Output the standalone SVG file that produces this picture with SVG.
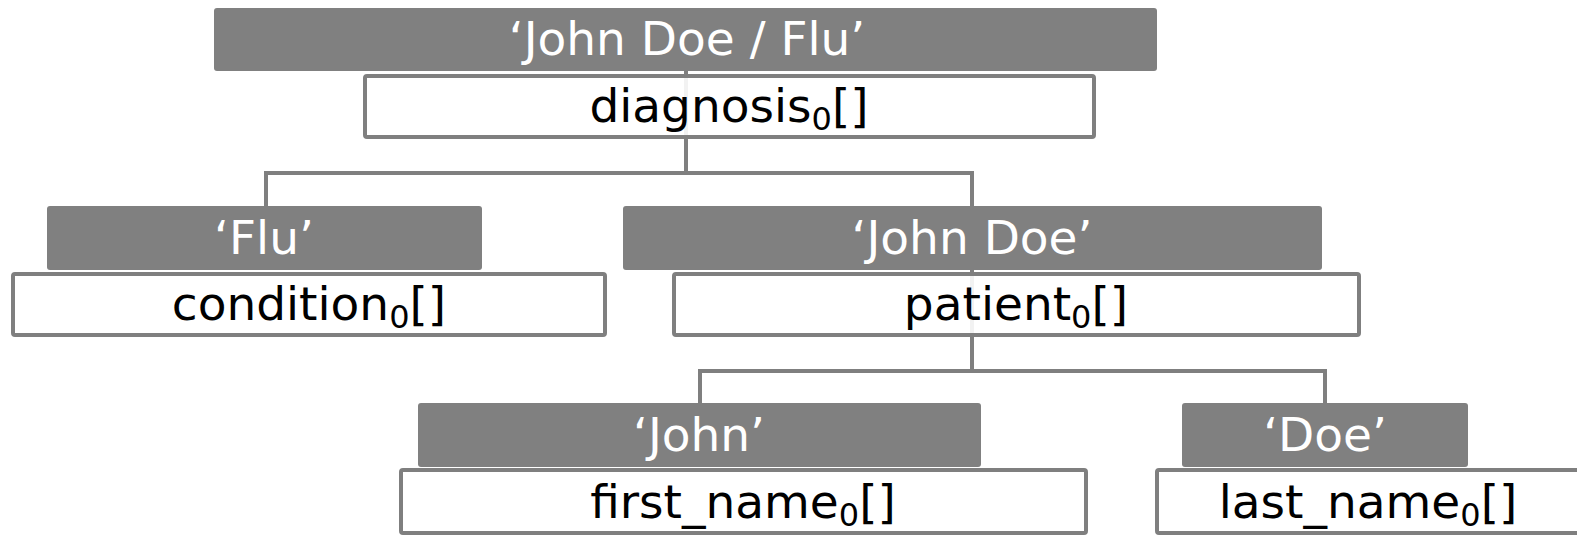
<svg xmlns="http://www.w3.org/2000/svg" width="1577" height="535" viewBox="0 0 1577 535">
<style>
.dark{fill:#808080}
.box{fill:#ffffff;fill-opacity:0.9;stroke:#7f7f7f;stroke-width:4}
.lbl{font-family:"DejaVu Sans",Verdana,sans-serif;font-size:47px;text-anchor:middle}
.w{fill:#ffffff}
.k{fill:#000000}
.sub{font-size:32px}
.conn{fill:none;stroke:#7f7f7f;stroke-width:4}
</style>
<rect width="1577" height="535" fill="#ffffff"/>
<g id="connectors">
<path class="conn" d="M686 70 V173 M266 206 V173 H972 V206"/>
<path class="conn" d="M972 270 V371 M700 404 V371 H1325 V404"/>
</g>
<g id="root">
<rect class="dark" x="214" y="8" width="943" height="63" rx="3"/>
<text class="lbl w" x="687" y="55">‘John Doe / Flu’</text>
<rect class="box" x="365" y="76" width="729" height="61" rx="2"/>
<text class="lbl k" x="729" y="122">diagnosis<tspan class="sub" dy="8">0</tspan><tspan dy="-8">[]</tspan></text>
</g>
<g id="flu">
<rect class="dark" x="47" y="206" width="435" height="64" rx="3"/>
<text class="lbl w" x="264" y="254">‘Flu’</text>
<rect class="box" x="13" y="274" width="592" height="61" rx="2"/>
<text class="lbl k" x="309" y="320">condition<tspan class="sub" dy="8">0</tspan><tspan dy="-8">[]</tspan></text>
</g>
<g id="johndoe">
<rect class="dark" x="623" y="206" width="699" height="64" rx="3"/>
<text class="lbl w" x="972" y="254">‘John Doe’</text>
<rect class="box" x="674" y="274" width="685" height="61" rx="2"/>
<text class="lbl k" x="1016" y="320">patient<tspan class="sub" dy="8">0</tspan><tspan dy="-8">[]</tspan></text>
</g>
<g id="john">
<rect class="dark" x="418" y="403" width="563" height="64" rx="3"/>
<text class="lbl w" x="699" y="451">‘John’</text>
<rect class="box" x="401" y="470" width="685" height="63" rx="2"/>
<text class="lbl k" x="743" y="518">first_name<tspan class="sub" dy="8">0</tspan><tspan dy="-8">[]</tspan></text>
</g>
<g id="doe">
<rect class="dark" x="1182" y="403" width="286" height="64" rx="3"/>
<text class="lbl w" x="1325" y="451">‘Doe’</text>
<rect class="box" x="1157" y="470" width="430" height="63" rx="2"/>
<text class="lbl k" x="1368" y="518">last_name<tspan class="sub" dy="8">0</tspan><tspan dy="-8">[]</tspan></text>
</g>
</svg>
